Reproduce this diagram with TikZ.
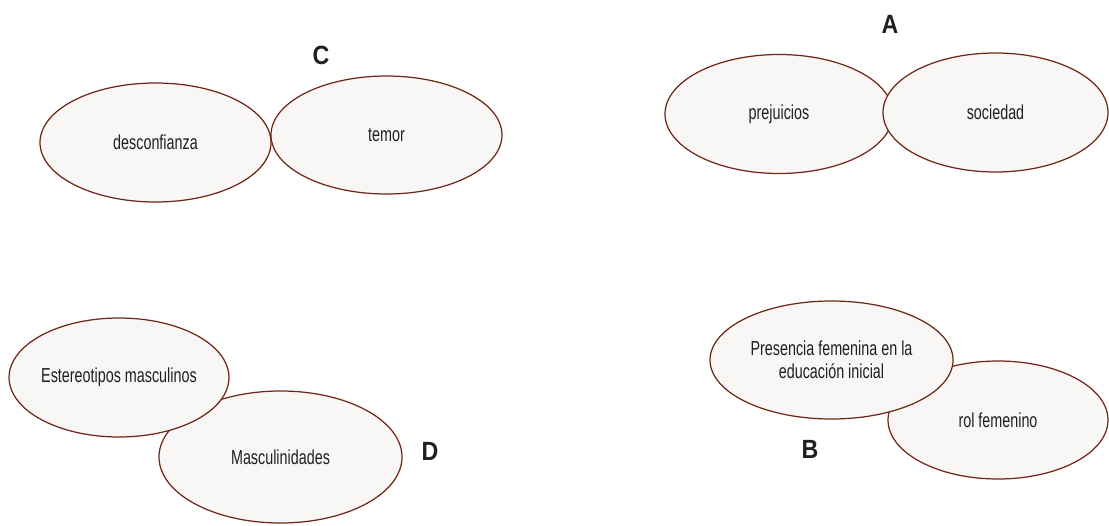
\documentclass[tikz,border=0pt]{standalone}
\usepackage{fontspec}
\usetikzlibrary{shapes.geometric}
\setmainfont{Liberation Sans}[FakeStretch=0.71]
\newfontfamily\letterfont{Liberation Sans}[FakeStretch=0.88]
\definecolor{rim}{RGB}{112,38,22}
\definecolor{bubblefill}{RGB}{248,247,245}
\definecolor{ink}{RGB}{35,31,32}
\definecolor{letterink}{RGB}{35,31,32}

\begin{document}
\begin{tikzpicture}[x=1cm,y=1cm]

      \useasboundingbox (0,0) rectangle (22.18,10.5);

      \begin{scope}[every node/.style={ellipse,draw=rim,fill=bubblefill,line width=.7pt,
          inner sep=0pt,align=center,text=ink,font=\fontsize{11.5}{13.2}\selectfont}]
        % C
        \node[minimum width=4.62cm,minimum height=2.38cm] (c1) at (3.11,7.65) {desconfianza};
        \node[minimum width=4.62cm,minimum height=2.36cm] (c2) at (7.73,7.80) {temor};
        % A
        \node[minimum width=4.56cm,minimum height=2.38cm] (a1) at (15.58,8.22) {prejuicios};
        \node[minimum width=4.50cm,minimum height=2.38cm] (a2) at (19.91,8.25) {sociedad};
        % D
        \node[minimum width=4.86cm,minimum height=2.64cm] (d2) at (5.61,1.36) {Masculinidades};
        \node[minimum width=4.36cm,minimum height=2.38cm] (d1) at (2.38,2.95) {Estereotipos masculinos};
        % B
        \node[minimum width=4.40cm,minimum height=2.36cm] (b2) at (19.96,2.10) {rol femenino};
        \node[minimum width=4.86cm,minimum height=2.36cm] (b1) at (16.63,3.30) {Presencia femenina en la\\educación inicial};
      \end{scope}

      \begin{scope}[every node/.style={text=letterink,font=\letterfont\bfseries\fontsize{15}{18}\selectfont}]
        \node (lc) at (6.42,9.40)  {C};
        \node (la) at (17.80,10.02) {A};
        \node (ld) at (8.60,1.48)  {D};
        \node (lb) at (16.20,1.52) {B};
      \end{scope}

    \end{tikzpicture}
\end{document}
